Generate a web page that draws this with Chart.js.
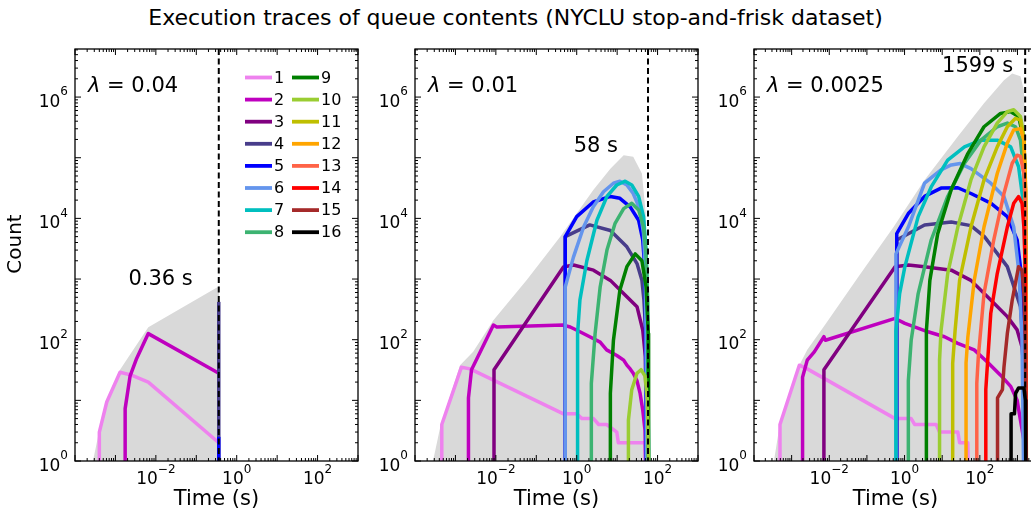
<!DOCTYPE html>
<html>
<head>
<meta charset="utf-8">
<script src="https://cdn.jsdelivr.net/npm/chart.js"></script>
<style>
  body { margin: 0; width: 1031px; height: 512px; overflow: hidden; position: relative; background: #fff; font-family: 'DejaVu Sans'; }
  #title { position: absolute; left: 0; top: 4px; width: 1031px; text-align: center; font-size: 22px; line-height: 28px; color: #000; }
  canvas { position: absolute; top: 0; }
</style>
</head>
<body>
<div id="title">Execution traces of queue contents (NYCLU stop-and-frisk dataset)</div>
<canvas id="p1" width="370" height="512" style="left:0px"></canvas>
<canvas id="p2" width="345" height="512" style="left:360px"></canvas>
<canvas id="p3" width="345" height="512" style="left:700px"></canvas>
<script>
// queue levels and their colours
const queueNames = ['1', '2', '3', '4', '5', '6', '7', '8', '9', '10', '11', '12', '13', '14', '15', '16'];
const queueColors = ['#ee82ee', '#bf00bf', '#800080', '#483d8b', '#0000ff', '#6495ed', '#00bfbf', '#3cb371',
                     '#008000', '#9acd32', '#bfbf00', '#ffa500', '#ff6347', '#ff0000', '#a52a2a', '#000000'];

// tick values and their powers of ten
const timeTicks = [1e-2, 1, 1e2];
const timeTickExps = ['−2', '0', '2'];
const countTicks = [1, 1e2, 1e4, 1e6];
const countTickExps = ['0', '2', '4', '6'];

const lambdas = ['0.04', '0.01', '0.0025'];
const endTimes = [0.36, 58, 1599];
const endLabels = ['0.36 s', '58 s', '1599 s'];

// [time (s), count]; 0.8 = dropped to zero (below the axis)
// lambda = 0.04
const p1Total = [[2.6e-4,0.8],[4.0e-4,3.2],[6.1e-4,10],[1.3e-3,32],[2.1e-3,52],[6.5e-3,160],[0.366,760],[0.367,0.8]];
const p1q1 = [[4.0e-4,0.8],[4.0e-4,3],[6.1e-4,9.4],[1.3e-3,29],[2.5e-3,26],[6.5e-3,20],[0.36,2]];
const p1q2 = [[1.74e-3,0.8],[1.74e-3,7.3],[2.3e-3,25],[3.35e-3,49],[6.5e-3,126],[0.36,28]];
const p1q4 = [[0.36,0.8],[0.36,420]];
const p1q5 = [[0.36,0.8],[0.36,2.5]];

// lambda = 0.01
const p2Total = [[2.6e-4,0.8],[4.2e-4,3.6],[1.3e-3,38],[2.75e-3,63],[8.7e-3,210],[0.058,960],[0.39,5000],[2.57,29500],[6.8,66000],[14.5,110000],[25,104000],[41,55000],[51,12000],[56,660],[59,0.8]];
const p2q1 = [[4.6e-4,0.8],[4.6e-4,4],[1.4e-3,35],[2.3e-3,33],[0.47,6],[1.0,6],[1.35,5],[2.6,5],[3.5,4],[5.5,4],[9.8,3],[10.7,2],[49,2],[50,0.8]];
const p2q2 = [[2.1e-3,0.8],[2.1e-3,11],[2.5e-3,32],[8.7e-3,174],[0.0105,162],[0.47,174],[0.69,162],[1.2,135],[2.1,112],[3.8,91],[5.5,68],[9.8,55],[14.5,46],[17.4,38],[21,33],[25,28],[31,21],[37,13],[43,6.9],[49,3.2],[51,0.8]];
const p2q3 = [[9e-3,0.8],[9e-3,32],[0.47,1580],[0.83,1700],[2.6,1400],[6.8,950],[17.4,510],[31,350],[43,144],[50,52],[54,0.8]];
const p2q4 = [[0.52,0.8],[0.52,5000],[2.1,7800],[6.8,6300],[17.4,3400],[31,1800],[41,950],[46,450],[51,130],[56,0.8]];
const p2q5 = [[0.52,0.8],[0.52,5000],[1.0,10700],[2.57,18600],[6.8,23000],[11.7,21400],[21,15500],[34,9300],[43,4400],[48,1600],[50,450],[52,0.8]];
const p2q6 = [[0.52,0.8],[0.52,740],[0.83,2300],[1.48,7200],[2.57,15500],[4.6,27500],[8.1,38000],[11.7,41000],[17.4,35500],[25,25700],[37,13800],[45,5600],[49,1600],[52,126],[53,0.8]];
const p2q7 = [[1.05,0.8],[1.05,126],[1.2,450],[1.78,2000],[3.16,9300],[5.6,23000],[9.8,35500],[15.8,41000],[23,35500],[34,23000],[45,10700],[52,3000],[56,450],[60,0.8]];
const p2q8 = [[2.3,0.8],[2.3,19],[2.85,126],[3.8,740],[5.6,3000],[8.9,8300],[14.5,14500],[23,17800],[34,13800],[45,7200],[52,2600],[57,450],[60,0.8]];
const p2q9 = [[6.8,0.8],[6.8,13],[8.1,98],[11.7,660],[17.4,1600],[28,2600],[41,2000],[52,740],[59,126],[60,0.8]];
const p2q10 = [[19,0.8],[19,4.7],[23,15],[31,28],[39,32],[49,25],[56,10],[60,0.8]];

// lambda = 0.0025
const p3Total = [[3.2e-4,0.8],[4.9e-4,4.2],[1.6e-3,38],[2.6e-3,68],[7.9e-3,180],[0.06,1100],[0.51,7200],[3.4,43000],[26,224000],[129,794000],[437,1900000],[724,2450000],[1200,2200000],[1480,1300000],[1600,370000],[1640,0.8]];
const p3q1 = [[4.9e-4,0.8],[4.9e-4,4],[1.6e-3,38],[2.6e-3,33],[0.56,5],[1.5,5],[1.85,4],[6.9,4],[8.5,3],[26,3],[29,2],[48,2],[49,0.8]];
const p3q2 = [[1.95e-3,0.8],[1.95e-3,24],[2.6e-3,46],[4e-3,63],[7.2e-3,112],[7.9e-3,98],[0.56,224],[1.02,186],[4.2,135],[11.5,112],[26,87],[71,68],[158,43],[355,26],[660,17],[980,10],[1200,4.7],[1480,2.2],[1550,0.8]];
const p3q3 = [[7.2e-3,0.8],[7.2e-3,32],[0.56,1600],[1.26,1700],[3.4,1600],[17.4,1400],[58,950],[195,450],[537,240],[980,145],[1320,76],[1510,28],[1620,0.8]];
const p3q4 = [[0.62,0.8],[0.62,4400],[3.4,7800],[17.4,8700],[58,7600],[132,5000],[537,1600],[1200,350],[1510,46],[1600,0.8]];
const p3q5 = [[0.62,0.8],[0.62,5600],[1.26,12000],[3.4,23000],[9.3,31600],[26,32000],[58,25700],[195,17800],[537,10700],[980,4400],[1260,1230],[1410,350],[1510,28],[1620,0.8]];
const p3q6 = [[0.59,0.8],[0.59,2600],[1.26,7200],[3.4,38000],[9.3,63000],[17.4,76000],[30,80000],[58,66000],[195,38000],[437,23000],[795,7200],[1100,1230],[1320,98],[1450,0.8]];
const p3q7 = [[0.59,0.8],[0.59,140],[0.74,575],[1.02,1600],[2.3,10700],[5.1,33000],[14,91000],[39,151000],[107,195000],[290,195000],[660,151000],[1070,71000],[1480,15500],[1620,1230],[1700,0.8]];
const p3q8 = [[1.26,0.8],[1.26,21],[1.5,98],[2.3,575],[5.1,4400],[14,23000],[39,81000],[107,195000],[290,324000],[537,372000],[890,324000],[1200,195000],[1480,55000],[1620,4400],[1700,0.8]];
const p3q9 = [[3.8,0.8],[3.8,140],[4.7,950],[7.6,5600],[17.4,30000],[48,117000],[129,324000],[355,537000],[660,575000],[1070,479000],[1480,195000],[1620,30000],[1700,0.8]];
const p3q10 = [[8.5,0.8],[8.5,46],[9.3,140],[14,1230],[26,7200],[58,43000],[129,151000],[290,372000],[537,575000],[795,617000],[1200,479000],[1480,224000],[1620,30000],[1700,0.8]];
const p3q11 = [[19,0.8],[19,41],[22,141],[29,955],[58,7200],[129,43000],[290,151000],[537,324000],[890,447000],[1200,417000],[1480,195000],[1660,15500],[1720,0.8]];
const p3q12 = [[43,0.8],[43,41],[48,110],[71,955],[129,7200],[290,55000],[537,174000],[795,288000],[1200,302000],[1480,195000],[1660,30000],[1720,0.8]];
const p3q13 = [[83,0.8],[83,19],[91,52],[129,575],[234,4400],[437,25700],[724,81000],[980,110000],[1200,105000],[1480,55000],[1620,15500],[1700,0.8]];
const p3q14 = [[144,0.8],[144,15],[195,270],[290,1230],[537,7200],[795,17800],[1070,22900],[1320,17800],[1480,7200],[1620,1230],[1700,0.8]];
const p3q15 = [[295,0.8],[295,11],[398,15],[437,35],[537,126],[724,447],[1070,1600],[1320,1400],[1480,575],[1620,98],[1700,0.8]];
const p3q16 = [[676,0.8],[676,6],[830,6],[890,13],[1070,16],[1480,16],[1620,10],[1660,0.8]];

const p1Queues = [p1q1, p1q2, null, p1q4, p1q5];
const p2Queues = [p2q1, p2q2, p2q3, p2q4, p2q5, p2q6, p2q7, p2q8, p2q9, p2q10];
const p3Queues = [p3q1, p3q2, p3q3, p3q4, p3q5, p3q6, p3q7, p3q8, p3q9, p3q10, p3q11, p3q12, p3q13, p3q14, p3q15, p3q16];

const FONT = 'DejaVu Sans';
Chart.defaults.font.family = FONT;
Chart.defaults.color = '#000';

// layout of the three panels (px)
const panelLayout = [
  { id: 'p1', xMin: 1e-4, xMax: 1e3,  yWidth: 75, padRight: 12, labelDx: -26, labelY: 285, legend: true,  yTitle: true },
  { id: 'p2', xMin: 1e-4, xMax: 1e3,  yWidth: 55, padRight: 7,  labelDx: -30, labelY: 152, legend: false, yTitle: false },
  { id: 'p3', xMin: 1e-4, xMax: 3300, yWidth: 54, padRight: 8,  labelDx: -12, labelY: 72,  legend: false, yTitle: false }
];
const panelData = [[p1Total, p1Queues], [p2Total, p2Queues], [p3Total, p3Queues]];

function logMarks(scale) {
  const out = [];
  const lo = Math.floor(Math.log10(scale.min)), hi = Math.ceil(Math.log10(scale.max));
  for (let e = lo; e <= hi; e++) {
    for (let k = 1; k < 10; k++) {
      const v = k * Math.pow(10, e);
      if (v < scale.min * 0.999 || v > scale.max * 1.001) continue;
      out.push({ p: scale.getPixelForValue(v), major: k === 1 });
    }
  }
  return out;
}

// "10" with a raised exponent, like mathtext
function drawPower(ctx, exp, x, yBase, align) {
  ctx.font = `17px "${FONT}"`;
  const wb = ctx.measureText('10').width;
  ctx.font = `12px "${FONT}"`;
  const we = ctx.measureText(exp).width;
  const w = wb + we;
  const x0 = align === 'right' ? x - w : x - w / 2;
  ctx.textAlign = 'left';
  ctx.textBaseline = 'alphabetic';
  ctx.font = `17px "${FONT}"`;
  ctx.fillText('10', x0, yBase);
  ctx.font = `12px "${FONT}"`;
  ctx.fillText(exp, x0 + wb, yBase - 11.5);
}

const panelDecor = {
  id: 'panelDecor',
  afterDatasetsDraw(chart, args, o) {
    const { ctx, chartArea: a, scales: { x, y } } = chart;
    ctx.save();

    // run end marker
    const xe = x.getPixelForValue(o.endTime);
    ctx.strokeStyle = '#000';
    ctx.lineWidth = 2;
    ctx.setLineDash([6, 3.5]);
    ctx.beginPath();
    ctx.moveTo(xe, a.top);
    ctx.lineTo(xe, a.bottom);
    ctx.stroke();
    ctx.setLineDash([]);

    // inward ticks on all four sides
    ctx.lineWidth = 1;
    ctx.beginPath();
    logMarks(x).forEach(t => {
      const len = t.major ? 6 : 3;
      ctx.moveTo(t.p, a.bottom); ctx.lineTo(t.p, a.bottom - len);
      ctx.moveTo(t.p, a.top); ctx.lineTo(t.p, a.top + len);
    });
    logMarks(y).forEach(t => {
      const len = t.major ? 6 : 3;
      ctx.moveTo(a.left, t.p); ctx.lineTo(a.left + len, t.p);
      ctx.moveTo(a.right, t.p); ctx.lineTo(a.right - len, t.p);
    });
    ctx.stroke();
    ctx.lineWidth = 1.3;
    ctx.strokeRect(a.left, a.top, a.right - a.left, a.bottom - a.top);

    // tick labels at the scales' own tick positions
    ctx.fillStyle = '#000';
    x.ticks.forEach((t, i) => drawPower(ctx, timeTickExps[i], x.getPixelForValue(t.value), a.bottom + 23, 'center'));
    y.ticks.forEach((t, i) => drawPower(ctx, countTickExps[i], a.left - 7, y.getPixelForValue(t.value) + 9.7, 'right'));

    // y title
    if (o.yTitle) {
      ctx.save();
      ctx.translate(16, 244);
      ctx.rotate(-Math.PI / 2);
      ctx.font = `20px "${FONT}"`;
      ctx.textAlign = 'center';
      ctx.textBaseline = 'middle';
      ctx.fillText('Count', 0, 0);
      ctx.restore();
    }

    // lambda label
    ctx.textBaseline = 'alphabetic';
    ctx.textAlign = 'left';
    ctx.font = `italic 21px "${FONT}"`;
    ctx.fillText('λ', a.left + 13, a.top + 43);
    const lw = ctx.measureText('λ').width;
    ctx.font = `21px "${FONT}"`;
    ctx.fillText(' = ' + o.lambda, a.left + 13 + lw, a.top + 43);

    // end time label
    ctx.textAlign = 'right';
    ctx.fillText(o.endLabel, xe + o.labelDx, o.labelY);

    // legend
    if (o.legend) {
      ctx.font = `16px "${FONT}"`;
      ctx.textAlign = 'left';
      ctx.textBaseline = 'middle';
      queueNames.forEach((name, i) => {
        const col = Math.floor(i / 8), row = i % 8;
        const lx = a.left + 170 + col * 47;
        const ly = a.top + 28.5 + row * 22.1;
        ctx.strokeStyle = queueColors[i];
        ctx.lineWidth = 3.8;
        ctx.beginPath();
        ctx.moveTo(lx, ly);
        ctx.lineTo(lx + 27, ly);
        ctx.stroke();
        ctx.fillText(name, lx + 29, ly + 1);
      });
    }
    ctx.restore();
  }
};

panelLayout.forEach((p, k) => {
  const [total, queues] = panelData[k];
  const datasets = [{
    data: total.map(([t, c]) => ({ x: t, y: c })),
    fill: 'start',
    backgroundColor: '#d9d9d9',
    borderColor: 'rgba(0,0,0,0)',
    borderWidth: 0,
    pointRadius: 0,
    order: 100
  }];
  queues.forEach((q, i) => {
    if (!q) return;
    datasets.push({
      data: q.map(([t, c]) => ({ x: t, y: c })),
      borderColor: queueColors[i],
      borderWidth: 3.5,
      borderJoinStyle: 'round',
      fill: false,
      pointRadius: 0,
      tension: 0,
      clip: 0,
      order: 50 - i
    });
  });

  new Chart(document.getElementById(p.id), {
    type: 'line',
    data: { datasets },
    options: {
      responsive: false,
      animation: false,
      devicePixelRatio: 1,
      layout: { padding: { top: 49, right: p.padRight, bottom: 0, left: 0 } },
      plugins: {
        legend: { display: false },
        tooltip: { enabled: false },
        panelDecor: {
          endTime: endTimes[k], endLabel: endLabels[k], lambda: lambdas[k],
          labelDx: p.labelDx, labelY: p.labelY, legend: p.legend, yTitle: p.yTitle
        }
      },
      scales: {
        x: {
          type: 'logarithmic',
          min: p.xMin, max: p.xMax,
          bounds: 'data',
          afterFit: s => { s.height = 51; },
          afterBuildTicks: s => { s.ticks = timeTicks.map(v => ({ value: v })); },
          ticks: { display: false, autoSkip: false },
          grid: { display: false, drawTicks: false },
          border: { display: false },
          title: { display: true, text: 'Time (s)', font: { size: 21 }, padding: { top: 0, bottom: 0 } }
        },
        y: {
          type: 'logarithmic',
          min: 1, max: 6.2e6,
          bounds: 'data',
          afterFit: s => { s.width = p.yWidth; },
          afterBuildTicks: s => { s.ticks = countTicks.map(v => ({ value: v })); },
          ticks: { display: false, autoSkip: false },
          grid: { display: false, drawTicks: false },
          border: { display: false }
        }
      }
    },
    plugins: [panelDecor]
  });
});
</script>
</body>
</html>
